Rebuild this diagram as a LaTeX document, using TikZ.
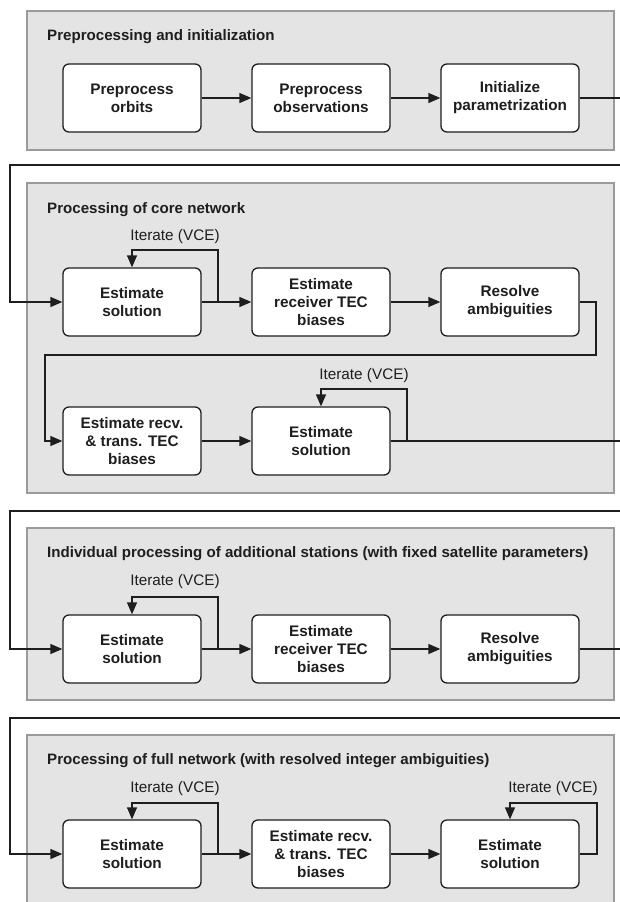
\documentclass[tikz,border=0pt]{standalone}
\usepackage{fontspec}
\setmainfont{Liberation Sans}
\usetikzlibrary{arrows.meta}

\definecolor{panelfill}{HTML}{E4E4E4}
\definecolor{paneledge}{HTML}{9A9A9A}
\definecolor{ink}{HTML}{1E1E1E}

\begin{document}
\begin{tikzpicture}[x=1pt,y=-1pt,
  panel/.style={draw=paneledge,fill=panelfill,line width=1.2pt},
  stepbox/.style={draw=ink,fill=white,rounded corners=6pt,line width=1.3pt,
    minimum width=138pt,minimum height=68pt,inner sep=0pt,align=center,
    text=ink,font=\fontsize{15.3}{18}\selectfont\bfseries},
  title/.style={anchor=west,inner sep=0pt,text=ink,font=\fontsize{15.1}{17}\selectfont\bfseries},
  iter/.style={text=ink,font=\fontsize{15.3}{18}\selectfont},
  flow/.style={draw=ink,line width=1.3pt,-{Triangle[length=12pt,width=10pt]}},
  wire/.style={draw=ink,line width=1.3pt}]

 %page frame
 \clip (0,0) rectangle (620,902);
 \fill[white] (0,0) rectangle (620,902);

 %panels
 \draw[panel] (27,11) rectangle (614,150);
 \draw[panel] (27,183) rectangle (614,493);
 \draw[panel] (27,528) rectangle (614,700);
 \draw[panel] (27,735) rectangle (614,920);

 %panel titles
 \node[title] (t1) at (47,37) {Preprocessing and initialization};
 \node[title] (t2) at (47,210) {Processing of core network};
 \node[title] (t3) at (47,554) {Individual processing of additional stations (with fixed satellite parameters)};
 \node[title] (t4) at (47,761) {Processing of full network (with resolved integer ambiguities)};

 %preprocessing
 \node[stepbox] (a1) at (132,98) {Preprocess\\orbits};
 \node[stepbox] (a2) at (321,98) {Preprocess\\observations};
 \node[stepbox] (a3) at (510,98) {Initialize\\parametrization};

 %core network
 \node[stepbox] (b1) at (132,302) {Estimate\\solution};
 \node[stepbox] (b2) at (321,302) {Estimate\\receiver TEC\\biases};
 \node[stepbox] (b3) at (510,302) {Resolve\\ambiguities};
 \node[stepbox] (b4) at (132,441) {Estimate recv.\\\& trans. TEC\\biases};
 \node[stepbox] (b5) at (321,441) {Estimate\\solution};

 %additional stations
 \node[stepbox] (c1) at (132,649) {Estimate\\solution};
 \node[stepbox] (c2) at (321,649) {Estimate\\receiver TEC\\biases};
 \node[stepbox] (c3) at (510,649) {Resolve\\ambiguities};

 %full network
 \node[stepbox] (d1) at (132,854) {Estimate\\solution};
 \node[stepbox] (d2) at (321,854) {Estimate recv.\\\& trans. TEC\\biases};
 \node[stepbox] (d3) at (510,854) {Estimate\\solution};

 %iteration labels
 \node[iter] (ib1) at (175,237) {Iterate (VCE)};
 \node[iter] (ib5) at (364,376) {Iterate (VCE)};
 \node[iter] (ic1) at (175,582) {Iterate (VCE)};
 \node[iter] (id1) at (175,789) {Iterate (VCE)};
 \node[iter] (id3) at (553,789) {Iterate (VCE)};

 %loop corners
 \coordinate (lb1) at (218,250);
 \coordinate (lb5) at (407,389);
 \coordinate (lc1) at (218,597);
 \coordinate (ld1) at (218,803);
 \coordinate (ld3) at (597,803);

 %corners of links between panels
 \coordinate (ka) at (632,98);
 \coordinate (kb) at (632,165);
 \coordinate (kc) at (10,165);
 \coordinate (kd) at (596,355);
 \coordinate (ke) at (45,355);
 \coordinate (kf) at (632,441);
 \coordinate (kg) at (632,511);
 \coordinate (kh) at (10,511);
 \coordinate (ki) at (632,649);
 \coordinate (kj) at (632,718);
 \coordinate (kk) at (10,718);

 %arrows in rows
 \draw[flow] (a1) -- (a2);
 \draw[flow] (a2) -- (a3);
 \draw[flow] (b1) -- (b2);
 \draw[flow] (b2) -- (b3);
 \draw[flow] (b4) -- (b5);
 \draw[flow] (c1) -- (c2);
 \draw[flow] (c2) -- (c3);
 \draw[flow] (d1) -- (d2);
 \draw[flow] (d2) -- (d3);

 %iteration loops
 \draw[flow] (b1.east) -| (lb1) -| (b1.north);
 \draw[flow] (b5.east) -| (lb5) -| (b5.north);
 \draw[flow] (c1.east) -| (lc1) -| (c1.north);
 \draw[flow] (d1.east) -| (ld1) -| (d1.north);
 \draw[flow] (d3.east) -| (ld3) -| (d3.north);

 %links between panels
 \draw[flow] (a3.east) -- (ka) -- (kb) -- (kc) |- (b1.west);
 \draw[flow] (b3.east) -| (kd) -- (ke) |- (b4.west);
 \draw[flow] (b5.east) -- (kf) -- (kg) -- (kh) |- (c1.west);
 \draw[flow] (c3.east) -- (ki) -- (kj) -- (kk) |- (d1.west);
\end{tikzpicture}
\end{document}
